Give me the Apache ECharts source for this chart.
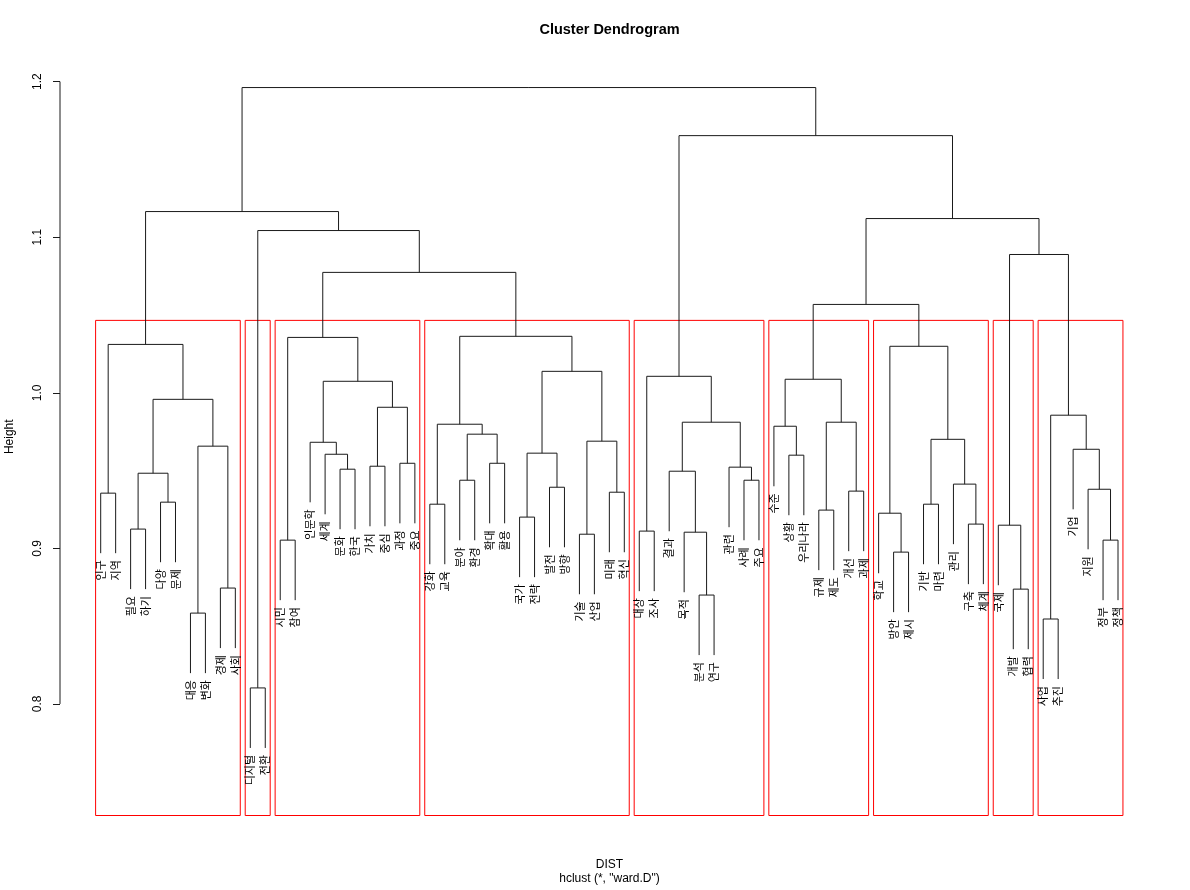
<!DOCTYPE html>
<html><head><meta charset="utf-8">
<script src="https://cdn.jsdelivr.net/npm/echarts@6/dist/echarts.min.js"></script>
<style>html,body{margin:0;padding:0;background:#fff}#chart{width:1190px;height:890px}</style>
</head><body><div id="chart"></div>
<script>
// Leaf labels in plotted (dendrogram) order
const leafLabels = [
  '인구','지역','필요','하기','다양','문제','대응','변화','경제','사회',
  '디지털','전환',
  '시민','참여','인문학','세계','문화','한국','가치','중심','과정','중요',
  '강화','교육','분야','환경','확대','활용','국가','전략','발전','방향','기술','산업','미래','혁신',
  '대상','조사','결과','목적','분석','연구','관련','사례','주요',
  '수준','상황','우리나라','규제','제도','개선','과제',
  '학교','방안','제시','기반','마련','관리','구축','체계',
  '국제','개발','협력',
  '사업','추진','기업','지원','정부','정책'
];
// Merge table (like R's hclust$merge + height): negative = leaf (1-based, plotted order), positive = merge row (1-based)
const merges = [
  [-1,-2,0.9355],[-3,-4,0.9124],[-5,-6,0.9297],[2,3,0.9483],[-7,-8,0.8584],[-9,-10,0.8745],[5,6,0.9657],[4,7,0.9958],[1,8,1.0311],
  [-11,-12,0.8103],
  [-13,-14,0.9053],[-17,-18,0.9509],[-16,12,0.9605],[-15,13,0.9682],[-19,-20,0.9528],[-21,-22,0.9547],[15,16,0.9907],[14,17,1.0074],[11,18,1.0356],
  [-23,-24,0.9284],[-25,-26,0.9438],[-27,-28,0.9547],[21,22,0.9734],[20,23,0.9798],[-29,-30,0.9201],[-31,-32,0.9393],[25,26,0.9612],[-33,-34,0.9091],[-35,-36,0.9361],[28,29,0.9689],[27,30,1.0138],[24,31,1.0363],
  [-37,-38,0.9111],[-41,-42,0.8700],[-40,34,0.9104],[-39,35,0.9496],[-44,-45,0.9438],[-43,37,0.9522],[36,38,0.9811],[33,39,1.0106],
  [-47,-48,0.9599],[-46,41,0.9785],[-49,-50,0.9246],[-51,-52,0.9368],[43,44,0.9811],[42,45,1.0087],
  [-54,-55,0.8976],[-53,47,0.9226],[-56,-57,0.9284],[-59,-60,0.9156],[-58,50,0.9413],[49,51,0.9701],[48,52,1.0299],
  [-62,-63,0.8738],[-61,54,0.9149],
  [-64,-65,0.8546],[-68,-69,0.9053],[-67,57,0.9380],[-66,58,0.9637],[56,59,0.9856],
  [55,60,1.0889],[46,53,1.0568],[62,61,1.1120],[40,63,1.1653],[19,32,1.0774],[10,65,1.1043],[9,66,1.1165],[67,64,1.1962]
];
const yTicks = [0.8, 0.9, 1.0, 1.1, 1.2];
const clusterCount = 9;
const hangFraction = 0.1;

// ---- derived geometry (data units) ----
const n = leafLabels.length;
const heights = merges.map(m => m[2]);
const hMax = Math.max(...heights), hMin = Math.min(...heights);
const hangAmt = hangFraction * (hMax - hMin);
const nodeX = [], nodeMin = [], nodeMax = [];
merges.forEach((m, i) => {
  const cx = id => id < 0 ? -id : nodeX[id - 1];
  const cmin = id => id < 0 ? -id : nodeMin[id - 1];
  const cmax = id => id < 0 ? -id : nodeMax[id - 1];
  nodeX[i] = (cx(m[0]) + cx(m[1])) / 2;
  nodeMin[i] = Math.min(cmin(m[0]), cmin(m[1]));
  nodeMax[i] = Math.max(cmax(m[0]), cmax(m[1]));
});
const segData = [], labelData = [];
merges.forEach((m, i) => {
  const h = m[2];
  const ch = id => id < 0 ? h - hangAmt : heights[id - 1];
  const cx = id => id < 0 ? -id : nodeX[id - 1];
  segData.push([cx(m[0]), ch(m[0]), cx(m[1]), ch(m[1]), h]);
  [m[0], m[1]].forEach(id => { if (id < 0) labelData.push([-id, h - hangAmt, leafLabels[-id - 1]]); });
});
// cluster boxes like rect.hclust(k)
const sortedH = heights.slice().sort((a, b) => b - a);
const cutH = (sortedH[clusterCount - 2] + sortedH[clusterCount - 1]) / 2;
const rootIdx = heights.indexOf(hMax) + 1;
const boxData = [];
(function collect(id) {
  if (id < 0) { boxData.push([-id, -id]); return; }
  const m = merges[id - 1];
  if (m[2] < cutH) { boxData.push([nodeMin[id - 1], nodeMax[id - 1]]); return; }
  collect(m[0]); collect(m[1]);
})(rootIdx);

const xMin = 1 - 0.04 * (n - 1), xMax = n + 0.04 * (n - 1);
const yMin = 0.7283, yMax = 1.2152;
const lineColor = '#1a1a1a';

const chart = echarts.init(document.getElementById('chart'), null, {renderer: 'canvas'});
chart.setOption({
  animation: false,
  backgroundColor: '#ffffff',
  textStyle: {fontFamily: '"Liberation Sans", Arial, sans-serif'},
  title: [
    {text: 'Cluster Dendrogram', left: 604.5, top: 17, textAlign: 'center',
     textStyle: {fontSize: 14.5, fontWeight: 'bold', color: '#000', fontFamily: '"Liberation Sans", Arial, sans-serif'}},
    {text: 'DIST', subtext: 'hclust (*, "ward.D")', left: 604.5, top: 854, textAlign: 'center', itemGap: 2,
     textStyle: {fontSize: 12, fontWeight: 'normal', color: '#000', fontFamily: '"Liberation Sans", Arial, sans-serif'},
     subtextStyle: {fontSize: 12, color: '#000', fontFamily: '"Liberation Sans", Arial, sans-serif'}}
  ],
  grid: {left: 60, right: 31.3, top: 58, bottom: 74.5, containLabel: false, outerBoundsMode: 'none'},
  xAxis: {type: 'value', min: xMin, max: xMax, show: false},
  yAxis: {
    type: 'value', min: yMin, max: yMax,
    name: 'Height', nameLocation: 'middle', nameRotate: 90, nameGap: 44,
    nameTextStyle: {fontSize: 12, color: '#000', fontFamily: '"Liberation Sans", Arial, sans-serif'},
    axisLine: {show: false, onZero: false},
    splitLine: {show: false},
    axisTick: {show: true, length: 7, customValues: yTicks, lineStyle: {color: lineColor, width: 1}},
    axisLabel: {show: true, rotate: 90, margin: 16, customValues: yTicks, fontSize: 12, color: '#000',
      fontFamily: '"Liberation Sans", Arial, sans-serif', formatter: v => v.toFixed(1)}
  },
  series: [
    { // cluster rectangles
      type: 'custom', coordinateSystem: 'cartesian2d', clip: false, silent: true, z: 1,
      data: boxData,
      renderItem: (params, api) => {
        const p0 = api.coord([api.value(0) - 0.34, yMin]);
        const p1 = api.coord([api.value(1) + 0.33, cutH]);
        return {type: 'rect', shape: {x: p0[0], y: p1[1], width: p1[0] - p0[0], height: p0[1] - p1[1]},
          style: {fill: null, stroke: '#ff0000', lineWidth: 1}};
      }
    },
    { // y axis line from first to last tick
      type: 'custom', coordinateSystem: 'cartesian2d', clip: false, silent: true, z: 2,
      data: [[yTicks[0], yTicks[yTicks.length - 1]]],
      renderItem: (params, api) => {
        const a = api.coord([xMin, api.value(0)]), b = api.coord([xMin, api.value(1)]);
        return {type: 'line', shape: {x1: a[0], y1: a[1], x2: b[0], y2: b[1]}, style: {stroke: lineColor, lineWidth: 1}};
      }
    },
    { // dendrogram branches
      type: 'custom', coordinateSystem: 'cartesian2d', clip: false, silent: true, z: 3,
      data: segData,
      renderItem: (params, api) => {
        const h = api.value(4);
        const pts = [
          api.coord([api.value(0), api.value(1)]),
          api.coord([api.value(0), h]),
          api.coord([api.value(2), h]),
          api.coord([api.value(2), api.value(3)])
        ];
        return {type: 'polyline', shape: {points: pts}, style: {stroke: lineColor, lineWidth: 1, fill: null}};
      }
    },
    { // leaf labels
      type: 'custom', coordinateSystem: 'cartesian2d', clip: false, silent: true, z: 4,
      data: labelData,
      renderItem: (params, api) => {
        const p = api.coord([api.value(0), api.value(1)]);
        return {type: 'text', x: p[0], y: p[1] + 7, rotation: Math.PI / 2,
          style: {text: labelData[params.dataIndex][2], x: 0, y: 0, align: 'right', verticalAlign: 'middle',
            font: '11px "Noto Sans CJK KR", sans-serif', fill: '#000'}};
      }
    }
  ]
});
</script></body></html>
